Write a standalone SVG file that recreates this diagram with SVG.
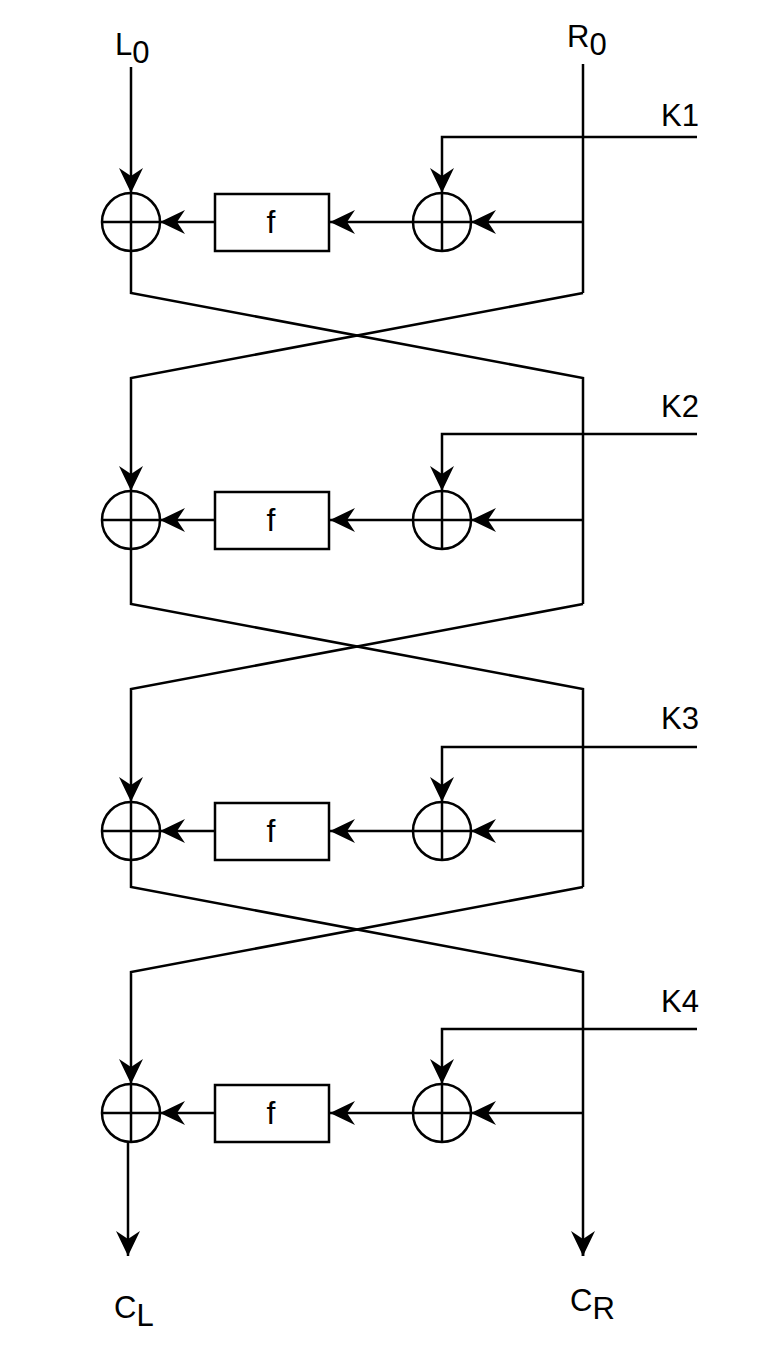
<svg xmlns="http://www.w3.org/2000/svg" width="776" height="1356" viewBox="0 0 776 1356">
  <style>
    .ln { fill: none; stroke: #000; stroke-width: 2.5; }
    .arr { fill: none; stroke: #000; stroke-width: 2.5; marker-end: url(#head); }
    .xor { fill: #fff; stroke: #000; stroke-width: 2.5; }
    .box { fill: #fff; stroke: #000; stroke-width: 2.5; }
    text { font-family: "Liberation Sans", Arial, sans-serif; font-size: 31px; fill: #000; }
    .f { text-anchor: middle; font-size: 32px; }
  </style>
  <defs>
    <marker id="head" viewBox="-27 -13 28 26" refX="0" refY="0" markerWidth="28" markerHeight="26" markerUnits="userSpaceOnUse" orient="auto">
      <path d="M0 0 L-25 -12 L-17 0 L-25 12 Z" fill="#000"/>
    </marker>
  </defs>

  <rect width="776" height="1356" fill="#fff"/>

  <!-- connectors -->
  <g id="connectors">
    <!-- inputs -->
    <path class="arr" d="M131 67 V193"/>
    <path class="ln" d="M583 64 V293"/>

    <!-- round 1 -->
    <path class="arr" d="M697 137 H442 V193"/>
    <path class="arr" d="M583 222 H471"/>
    <path class="arr" d="M413 222 H330"/>
    <path class="arr" d="M215 222 H160"/>
    <!-- swap 1 -->
    <path class="ln" d="M131 251 V293 L583 378 V604"/>
    <path class="arr" d="M583 293 L131 378 V491"/>

    <!-- round 2 -->
    <path class="arr" d="M697 434 H442 V491"/>
    <path class="arr" d="M583 520 H471"/>
    <path class="arr" d="M413 520 H330"/>
    <path class="arr" d="M215 520 H160"/>
    <!-- swap 2 -->
    <path class="ln" d="M131 549 V604 L583 689 V887"/>
    <path class="arr" d="M583 604 L131 689 V802"/>

    <!-- round 3 -->
    <path class="arr" d="M697 747 H442 V802"/>
    <path class="arr" d="M583 831 H471"/>
    <path class="arr" d="M413 831 H330"/>
    <path class="arr" d="M215 831 H160"/>
    <!-- swap 3 -->
    <path class="ln" d="M131 860 V887 L583 972 V1256"/>
    <path class="arr" d="M583 887 L131 972 V1084"/>

    <!-- round 4 -->
    <path class="arr" d="M697 1029 H442 V1084"/>
    <path class="arr" d="M583 1113 H471"/>
    <path class="arr" d="M413 1113 H330"/>
    <path class="arr" d="M215 1113 H160"/>

    <!-- outputs -->
    <path class="arr" d="M128 1142 V1256"/>
    <path class="arr" d="M583 1248 V1256"/>
  </g>

  <!-- round 1 nodes -->
  <g id="xorL1"><circle class="xor" cx="131" cy="222" r="29"/><path class="ln" d="M102 222 H160 M131 193 V251"/></g>
  <g id="f1"><rect class="box" x="215" y="194" width="114" height="57"/><text class="f" x="271" y="233">f</text></g>
  <g id="xorR1"><circle class="xor" cx="442" cy="222" r="29"/><path class="ln" d="M413 222 H471 M442 193 V251"/></g>

  <!-- round 2 nodes -->
  <g id="xorL2"><circle class="xor" cx="131" cy="520" r="29"/><path class="ln" d="M102 520 H160 M131 491 V549"/></g>
  <g id="f2"><rect class="box" x="215" y="492" width="114" height="57"/><text class="f" x="271" y="531">f</text></g>
  <g id="xorR2"><circle class="xor" cx="442" cy="520" r="29"/><path class="ln" d="M413 520 H471 M442 491 V549"/></g>

  <!-- round 3 nodes -->
  <g id="xorL3"><circle class="xor" cx="131" cy="831" r="29"/><path class="ln" d="M102 831 H160 M131 802 V860"/></g>
  <g id="f3"><rect class="box" x="215" y="803" width="114" height="57"/><text class="f" x="271" y="842">f</text></g>
  <g id="xorR3"><circle class="xor" cx="442" cy="831" r="29"/><path class="ln" d="M413 831 H471 M442 802 V860"/></g>

  <!-- round 4 nodes -->
  <g id="xorL4"><circle class="xor" cx="131" cy="1113" r="29"/><path class="ln" d="M102 1113 H160 M131 1084 V1142"/></g>
  <g id="f4"><rect class="box" x="215" y="1085" width="114" height="57"/><text class="f" x="271" y="1124">f</text></g>
  <g id="xorR4"><circle class="xor" cx="442" cy="1113" r="29"/><path class="ln" d="M413 1113 H471 M442 1084 V1142"/></g>

  <!-- labels -->
  <g id="labels">
    <text x="115" y="55">L<tspan dy="8">0</tspan></text>
    <text x="567" y="47">R<tspan dy="8">0</tspan></text>
    <text x="661" y="126">K1</text>
    <text x="661" y="417">K2</text>
    <text x="661" y="729">K3</text>
    <text x="661" y="1012">K4</text>
    <text x="114" y="1318">C<tspan dy="8">L</tspan></text>
    <text x="570" y="1311">C<tspan dy="8">R</tspan></text>
  </g>
</svg>
